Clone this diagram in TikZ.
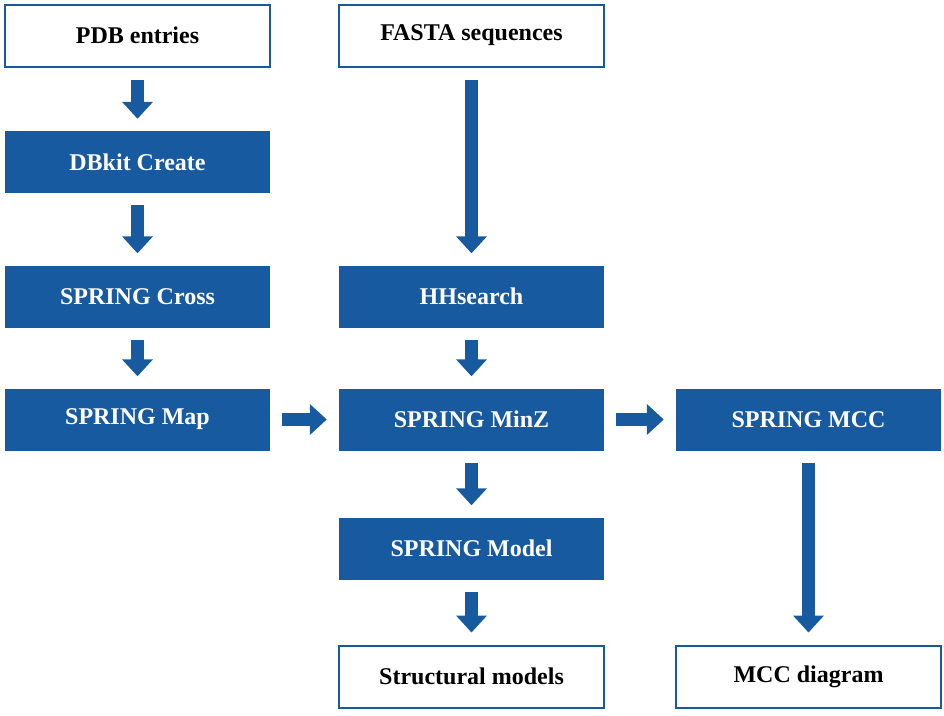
\documentclass[tikz,border=0pt]{standalone}
\usepackage{fontspec}
\setmainfont{Liberation Serif}
\usetikzlibrary{arrows.meta}
\definecolor{springblue}{HTML}{175AA0}
\tikzset{
  box/.style={rectangle, minimum width=265pt, minimum height=62pt, inner sep=0pt,
    font=\fontsize{24}{28}\selectfont\bfseries},
  tool/.style={box, fill=springblue, text=white},
  io/.style={box, draw=springblue, line width=2pt, fill=white, text=black},
  flow/.style={draw=springblue, line width=13pt, -{Triangle[width=30pt,length=17pt]},
    shorten <=12pt, shorten >=12pt}
}
\begin{document}
\begin{tikzpicture}[x=1pt,y=-1pt]
  \useasboundingbox (0,0) rectangle (944,715);
  % Column 1
  \node[io] (pdb) at (137.5,35.5) {PDB entries};
  \node[tool] (create) at (137.5,162) {DBkit Create};
  \node[tool] (cross) at (137.5,296.5) {SPRING Cross};
  \node[tool] (map) at (137.5,419.5) {SPRING Map};
  % Column 2
  \node[io] (fasta) at (471.5,35.5) {FASTA sequences};
  \node[tool] (hhsearch) at (471.5,296.5) {HHsearch};
  \node[tool] (minz) at (471.5,419.5) {SPRING MinZ};
  \node[tool] (model) at (471.5,548.5) {SPRING Model};
  \node[io] (structural) at (471.5,676.5) {Structural models};
  % Column 3
  \node[tool] (mcc) at (808.5,419.5) {SPRING MCC};
  \node[io] (diagram) at (808.5,676.5) {MCC diagram};
  %---------------------%
  \draw[flow] (pdb) -- (create);
  \draw[flow] (create) -- (cross);
  \draw[flow] (cross) -- (map);
  \draw[flow] (fasta) -- (hhsearch);
  \draw[flow] (hhsearch) -- (minz);
  \draw[flow] (minz) -- (model);
  \draw[flow] (model) -- (structural);
  \draw[flow] (map) -- (minz);
  \draw[flow] (minz) -- (mcc);
  \draw[flow] (mcc) -- (diagram);
\end{tikzpicture}
\end{document}
